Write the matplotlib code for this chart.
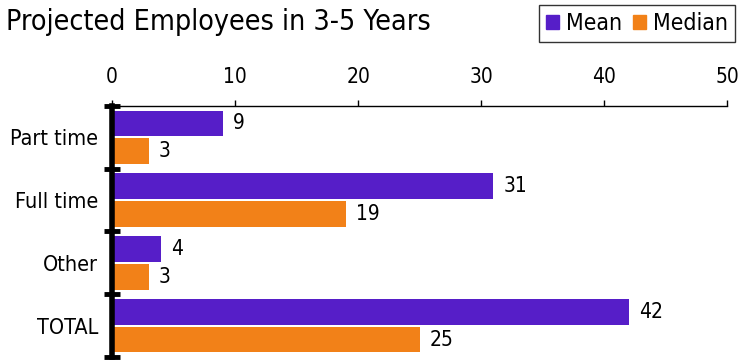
import numpy as np
import matplotlib
matplotlib.use("Agg")
import matplotlib.pyplot as plt
from matplotlib.patches import Patch

plt.rcParams['font.family'] = ['DejaVu Sans']
plt.rcParams['font.stretch'] = 'condensed'

categories = ['Part time', 'Full time', 'Other', 'TOTAL']
mean_vals = [9, 31, 4, 42]
median_vals = [3, 19, 3, 25]
xticks = [0, 10, 20, 30, 40, 50]

purple = '#561ec8'
orange = '#f28118'

fig = plt.figure(figsize=(7.42, 3.6), dpi=100)
ax = fig.add_axes([0.151, 0.008, 0.829, 0.698])

y = np.arange(len(categories))
h = 0.41
ax.barh(y - 0.22, mean_vals, height=h, color=purple)
ax.barh(y + 0.22, median_vals, height=h, color=orange)

for yi, v in zip(y, mean_vals):
    ax.text(v + 0.8, yi - 0.22, str(v), va='center', ha='left', fontsize=15)
for yi, v in zip(y, median_vals):
    ax.text(v + 0.8, yi + 0.22, str(v), va='center', ha='left', fontsize=15)

ax.set_xlim(0, 50)
ax.set_ylim(len(categories) - 0.5, -0.5)
ax.xaxis.tick_top()
ax.set_xticks(xticks)
ax.tick_params(axis='x', direction='out', length=4.5, width=1, labelsize=15, pad=9)

ax.set_yticks(y)
ax.set_yticklabels(categories, fontsize=15.5)
ax.tick_params(axis='y', length=0, pad=10)
# boundary marks on the left axis
ax.set_yticks(np.arange(-0.5, len(categories), 1.0), minor=True)
ax.tick_params(axis='y', which='minor', direction='inout', length=12, width=3.5, color='black')

for s in ['right', 'bottom']:
    ax.spines[s].set_visible(False)
ax.spines['left'].set_linewidth(4)
ax.spines['top'].set_linewidth(1)

fig.text(0.008, 0.94, 'Projected Employees in 3-5 Years', fontsize=20.5, va='center', ha='left')

handles = [Patch(color=purple, label='Mean'), Patch(color=orange, label='Median')]
leg = fig.legend(handles=handles, loc='upper right', bbox_to_anchor=(0.99, 0.985), ncol=2,
                 fontsize=16.5, frameon=True, fancybox=False, edgecolor='black',
                 handlelength=0.55, handleheight=0.55, handletextpad=0.3, columnspacing=0.5,
                 borderpad=0.3, borderaxespad=0)
leg.get_frame().set_linewidth(1)

fig.savefig('out.png', dpi=100)
